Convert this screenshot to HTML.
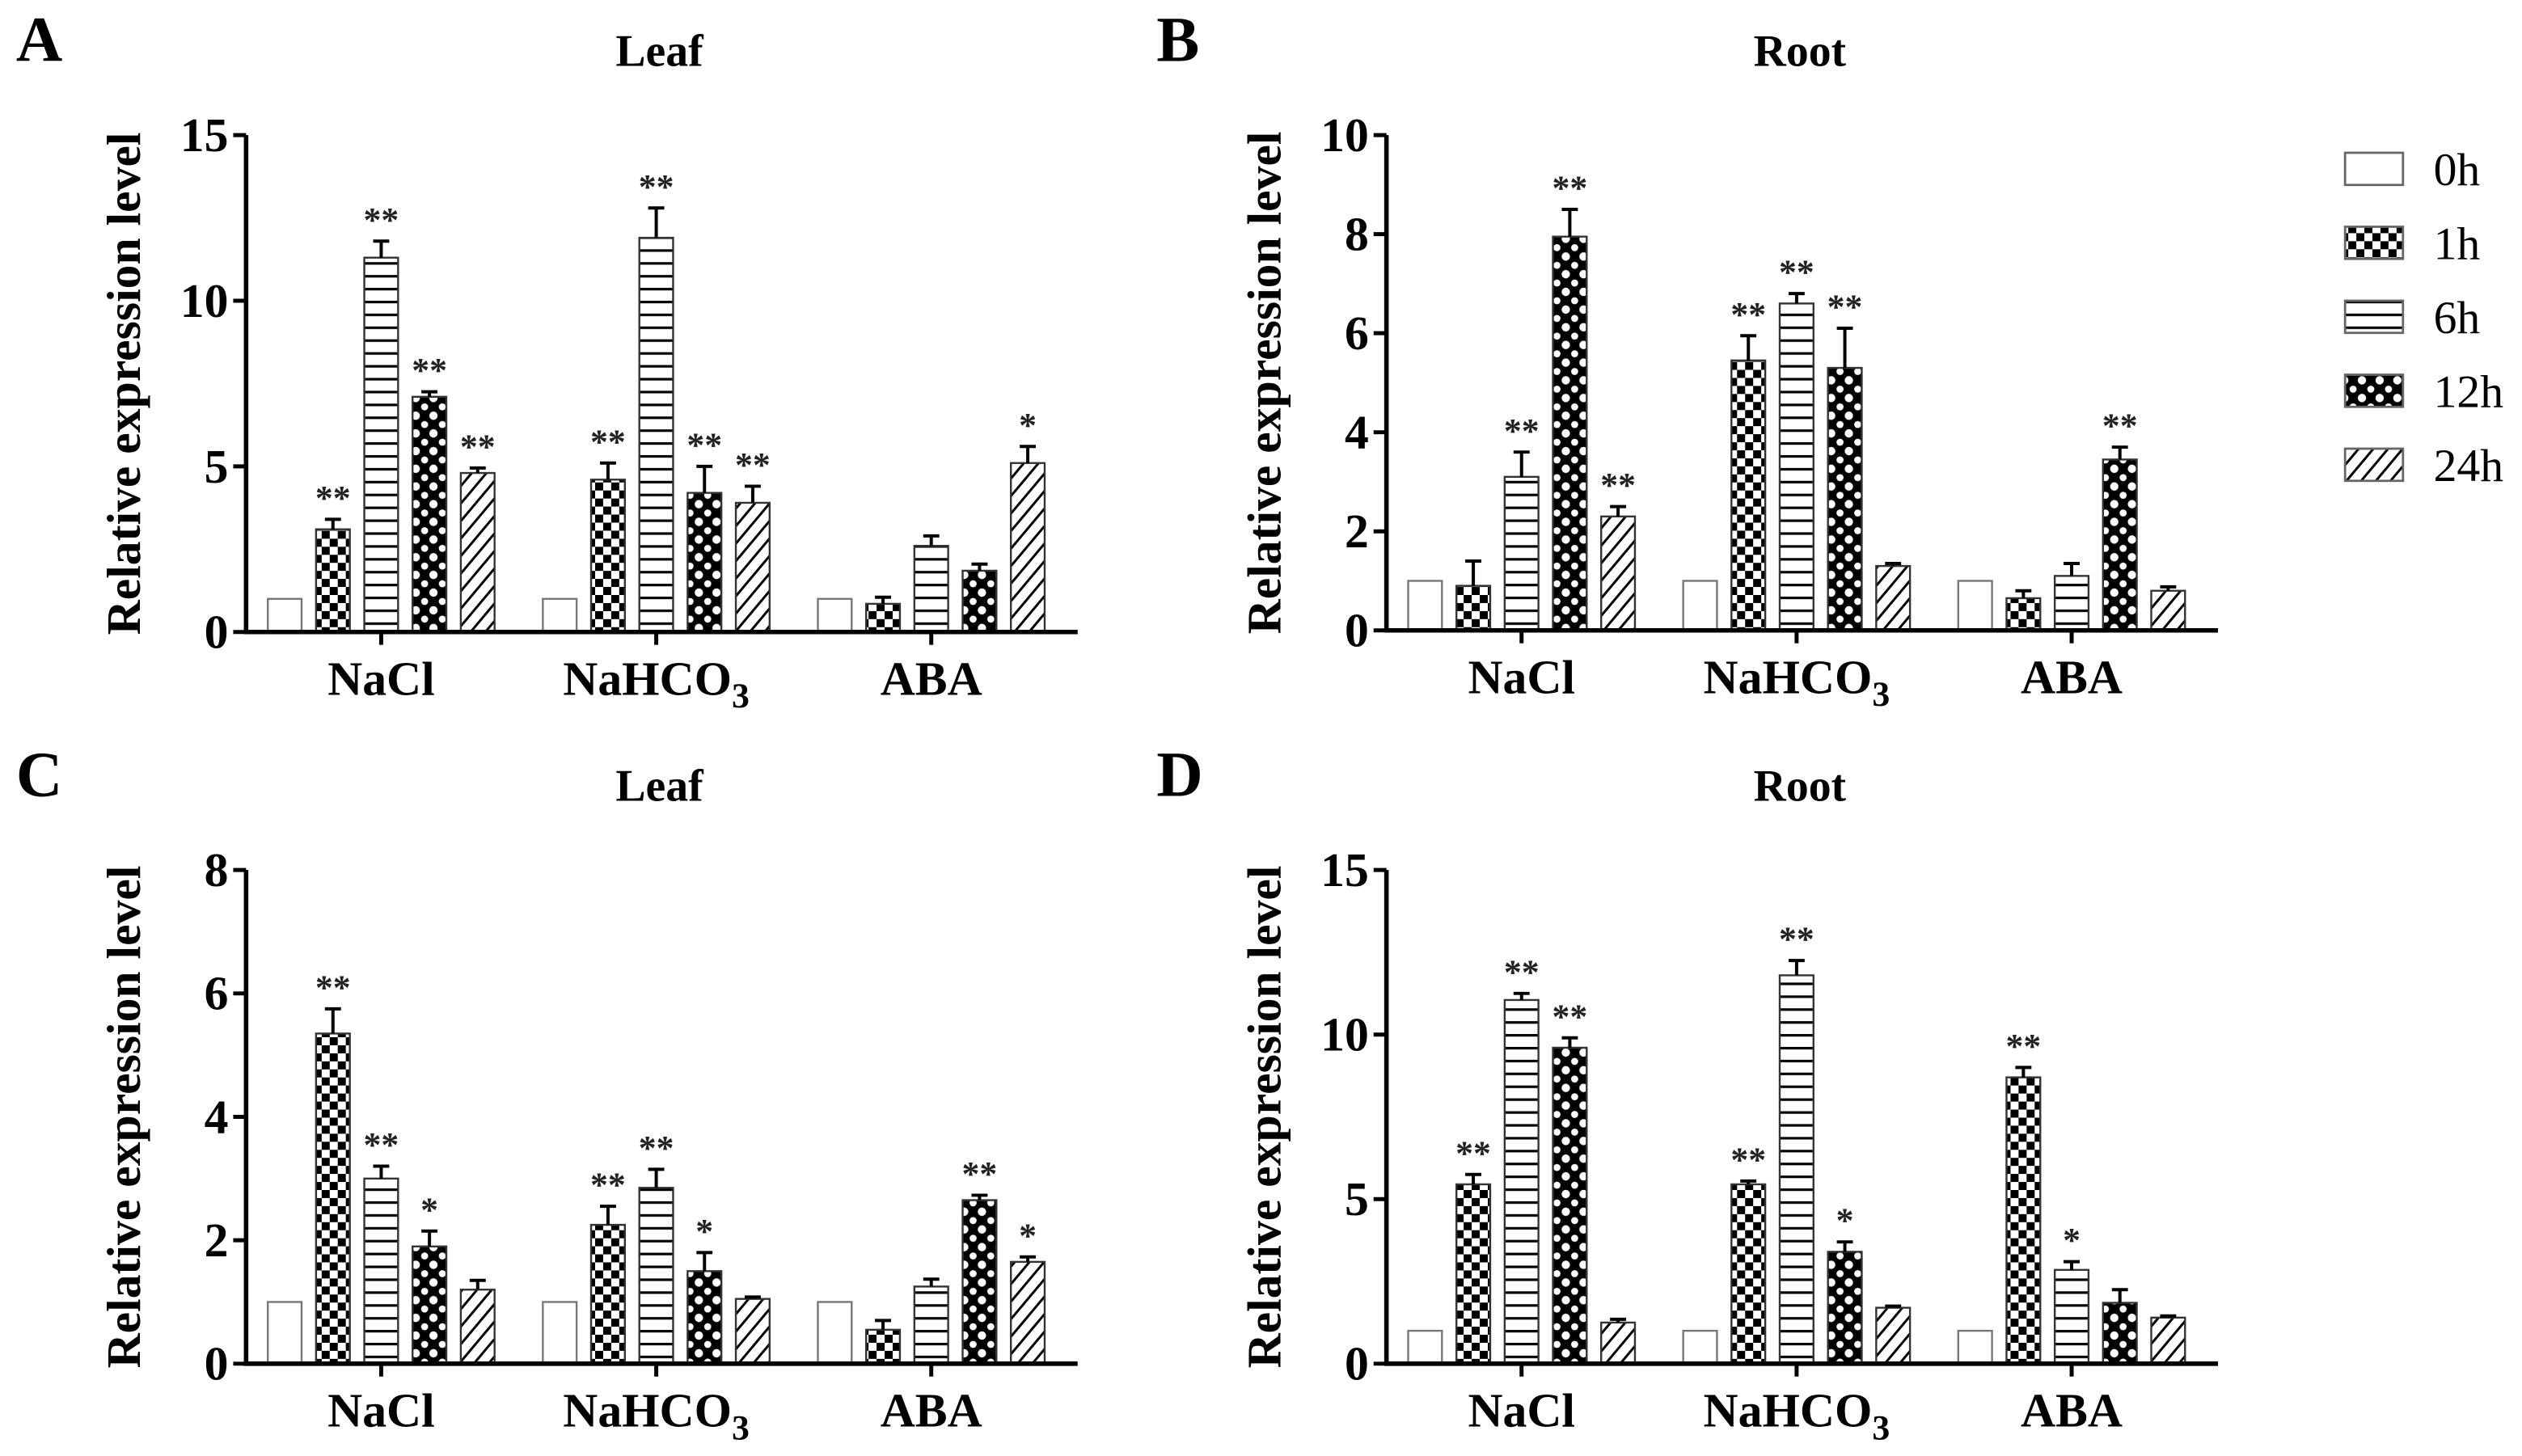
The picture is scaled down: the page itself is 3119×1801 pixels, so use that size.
<!DOCTYPE html>
<html><head><meta charset="utf-8">
<style>
html,body{margin:0;padding:0;background:#fff;}
svg{display:block;}
svg text{font-family:"Liberation Serif","DejaVu Serif","Times New Roman",serif !important;}
</style></head>
<body>
<svg id="fig" width="3119" height="1801" viewBox="0 0 1568 905.4" preserveAspectRatio="none" xmlns="http://www.w3.org/2000/svg" font-family="Liberation Serif, DejaVu Serif, serif">
<defs>
<pattern id="p1h" width="10" height="10" patternUnits="userSpaceOnUse">
<rect width="10" height="10" fill="#fff"/><rect width="5" height="5" fill="#000"/><rect x="5" y="5" width="5" height="5" fill="#000"/>
</pattern>
<pattern id="p6h" width="8" height="8" patternUnits="userSpaceOnUse">
<rect width="8" height="8" fill="#fff"/><rect y="3" width="8" height="1.6" fill="#000"/>
</pattern>
<pattern id="p12h" width="11" height="11" patternUnits="userSpaceOnUse">
<rect width="11" height="11" fill="#000"/><circle cx="5.5" cy="5.5" r="2.6" fill="#fff"/><circle cx="0" cy="0" r="2.2" fill="#fff"/><circle cx="11" cy="0" r="2.2" fill="#fff"/><circle cx="0" cy="11" r="2.2" fill="#fff"/><circle cx="11" cy="11" r="2.2" fill="#fff"/>
</pattern>
<pattern id="p24h" width="7" height="7" patternUnits="userSpaceOnUse" patternTransform="rotate(40)">
<rect width="7" height="7" fill="#fff"/><rect width="1.5" height="7" fill="#000"/>
</pattern>
</defs>
<g id="root"></g>
</svg>
<script>
const series = ["0h","1h","6h","12h","24h"];
const categories = ["NaCl","NaHCO3","ABA"];
const valuesA = [[1,3.1,11.3,7.1,4.8],[1,4.6,11.9,4.2,3.9],[1,0.85,2.6,1.85,5.1]];
const errorsA = [[0,0.3,0.5,0.15,0.15],[0,0.5,0.9,0.8,0.5],[0,0.2,0.3,0.2,0.5]];
const starsA = [["","**","**","**","**"],["","**","**","**","**"],["","","","","*"]];
const valuesB = [[1,0.9,3.1,7.95,2.3],[1,5.45,6.6,5.3,1.3],[1,0.65,1.1,3.45,0.8]];
const errorsB = [[0,0.5,0.5,0.55,0.2],[0,0.5,0.2,0.8,0.05],[0,0.15,0.25,0.25,0.08]];
const starsB = [["","","**","**","**"],["","**","**","**",""],["","","","**",""]];
const valuesC = [[1,5.35,3.0,1.9,1.2],[1,2.25,2.85,1.5,1.05],[1,0.55,1.25,2.65,1.65]];
const errorsC = [[0,0.4,0.2,0.25,0.15],[0,0.3,0.3,0.3,0.03],[0,0.15,0.12,0.08,0.08]];
const starsC = [["","**","**","*",""],["","**","**","*",""],["","","","**","*"]];
const valuesD = [[1,5.45,11.05,9.6,1.25],[1,5.45,11.8,3.4,1.7],[1,8.7,2.85,1.85,1.4]];
const errorsD = [[0,0.3,0.2,0.3,0.1],[0,0.1,0.45,0.3,0.05],[0,0.3,0.25,0.4,0.05]];
const starsD = [["","**","**","**",""],["","**","**","*",""],["","**","*","",""]];
const ticksA = [0,5,10,15], ticksB = [0,2,4,6,8,10], ticksC = [0,2,4,6,8], ticksD = [0,5,10,15];

const NS="http://www.w3.org/2000/svg";
const FF="Liberation Serif, DejaVu Serif, serif";
const root=document.getElementById('root');
function mk(tag,attrs,parent){const e=document.createElementNS(NS,tag);for(const k in attrs)e.setAttribute(k,attrs[k]);if(tag==='text')e.setAttribute('font-family',FF);(parent||root).appendChild(e);return e;}
const fills=["#fff","url(#p1h)","url(#p6h)","url(#p12h)","url(#p24h)"];

function panel(id,letter,title,x0,yTop,yBot,ymax,ticks,vals,errs,stars){
  const g=mk('g',{});
  
  
  const yS=v=>yBot-(v/ymax)*(yBot-yTop);
  const xEnd=x0+517;
  const gc=i=>x0+84+i*171;
  const L=mk('text',{x:x0-143,y:yTop-46,'font-size':40,'font-weight':'bold'},g);L.textContent=letter;
  
  
  const T=mk('text',{x:x0+257,y:yTop-43,'font-size':28,'font-weight':'bold','text-anchor':'middle'},g);T.textContent=title;
  
  
  const YT=mk('text',{transform:`translate(${x0-66},${(yTop+yBot)/2}) rotate(-90)`,'font-size':30,'font-weight':'bold','text-anchor':'middle'},g);YT.textContent="Relative expression level";
  
  
  vals.forEach((grp,ci)=>{
    grp.forEach((v,si)=>{
      const cx=gc(ci)+(si-2)*30;
      const y=yS(v);
      const r=mk('rect',{x:cx-10.5,y:y,width:21,height:yBot-y,fill:fills[si],stroke:si==0?'#777':'#333','stroke-width':1.2},g);
      
      
      const e=errs[ci][si];
      if(e>0){
        const ye=yS(v+e);
        const el=mk('path',{d:`M${cx},${y} V${ye} M${cx-5},${ye} H${cx+5}`,stroke:'#000','stroke-width':2,fill:'none'},g);
        
        
      }
      const s=stars[ci][si];
      if(s){
        const st=mk('text',{x:cx,y:yS(v+e)-6,'font-size':22,'font-weight':'bold','text-anchor':'middle',fill:'#222'},g);st.textContent=s;
        
        
      }
    });
  });
  const ax=mk('path',{d:`M${x0},${yTop} V${yBot} H${xEnd}`,stroke:'#000','stroke-width':2.8,fill:'none'},g);
  
  
  ticks.forEach(t=>{
    const y=yS(t);
    const tm=mk('path',{d:`M${x0-8},${y} H${x0}`,stroke:'#000','stroke-width':2.5},g);
    
    
    const tl=mk('text',{x:x0-11,y:y+10,'font-size':30,'font-weight':'bold','text-anchor':'end'},g);tl.textContent=t;
    
    
  });
  categories.forEach((c,ci)=>{
    const x=gc(ci);
    const tm=mk('path',{d:`M${x},${yBot} V${yBot+8}`,stroke:'#000','stroke-width':2.5},g);
    
    
    const tl=mk('text',{x:x,y:yBot+39,'font-size':30,'font-weight':'bold','text-anchor':'middle'},g);
    if(c==="NaHCO3"){tl.textContent="NaHCO";const sub=mk('tspan',{'font-size':22,dy:8},tl);sub.textContent="3";}
    else tl.textContent=c;
    
    
  });
}
panel('a','A','Leaf',153,84,393,15,ticksA,valuesA,errorsA,starsA);
panel('b','B','Root',862,84,392,10,ticksB,valuesB,errorsB,starsB);
panel('c','C','Leaf',153,541,848,8,ticksC,valuesC,errorsC,starsC);
panel('d','D','Root',862,541,848,15,ticksD,valuesD,errorsD,starsD);

const leg=mk('g',{});


series.forEach((s,i)=>{
  const y=95+i*46;
  const r=mk('rect',{x:1458,y:y,width:36,height:20,fill:fills[i],stroke:'#666','stroke-width':1.4},leg);
  
  
  const t=mk('text',{x:1513,y:y+20,'font-size':29},leg);t.textContent=s;
  
  
});
</script>
</body></html>
